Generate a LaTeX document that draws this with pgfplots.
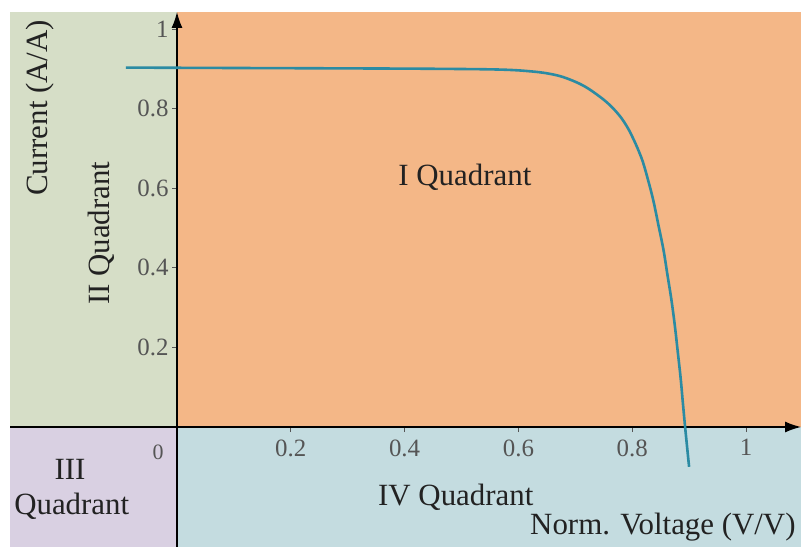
\documentclass[border=0pt]{standalone}
\usepackage{fontspec}
\setmainfont{Liberation Serif}
\usepackage{pgfplots}
\pgfplotsset{compat=1.18}
\usetikzlibrary{arrows.meta}
\definecolor{qone}{HTML}{F4B787}
\definecolor{qtwo}{HTML}{D6DEC7}
\definecolor{qthree}{HTML}{D9D0E2}
\definecolor{qfour}{HTML}{C4DCE0}
\definecolor{curvec}{HTML}{2B8BA3}
\definecolor{tickgray}{HTML}{555555}
\definecolor{txt}{HTML}{222222}
\begin{document}
\begin{tikzpicture}
\begin{axis}[
  at={(0,0)}, anchor=south west,
  scale only axis, width=791bp, height=535bp,
  xmin=-0.2935, xmax=1.0967, ymin=-0.3015, ymax=1.0427,
  set layers,
  axis lines=middle,
  axis line style={line width=1.3bp, black},
  every inner x axis line/.append style={-{Latex[length=16bp,width=11bp]}},
  every inner y axis line/.append style={-{Latex[length=16bp,width=11bp]}},
  clip=false,
  xtick={0.2,0.4,0.6,0.8,1}, ytick={0.2,0.4,0.6,0.8,1},
  xticklabels={0.2,0.4,0.6,0.8,1}, yticklabels={0.2,0.4,0.6,0.8,1},
  tick align=outside, major tick length=5bp,
  tick style={tickgray, line width=0.6bp},
  ticklabel style={font=\fontsize{25}{30}\selectfont, text=tickgray},
  xticklabel style={yshift=-4bp},
  /pgf/number format/assume math mode=true,
]
\begin{pgfonlayer}{axis background}
\fill[white] (axis cs:-0.311,-0.3015) rectangle (axis cs:1.0967,1.073);
\end{pgfonlayer}
\addplot[on layer=axis background, fill=qtwo, draw=none, forget plot] coordinates {(-0.2935,0) (0,0) (0,1.0427) (-0.2935,1.0427)} -- cycle;
\addplot[on layer=axis background, fill=qone, draw=none, forget plot] coordinates {(0,0) (1.0967,0) (1.0967,1.0427) (0,1.0427)} -- cycle;
\addplot[on layer=axis background, fill=qthree, draw=none, forget plot] coordinates {(-0.2935,-0.3015) (0,-0.3015) (0,0) (-0.2935,0)} -- cycle;
\addplot[on layer=axis background, fill=qfour, draw=none, forget plot] coordinates {(0,-0.3015) (1.0967,-0.3015) (1.0967,0) (0,0)} -- cycle;
\addplot[curvec, line width=2.6bp, smooth, tension=0.6] coordinates {
(-0.090,0.903) (0.100,0.902) (0.300,0.901) (0.450,0.900)
(0.568,0.898) (0.626,0.893) (0.660,0.886) (0.685,0.876) (0.715,0.857) (0.743,0.830) (0.762,0.807) (0.779,0.780)
(0.792,0.752) (0.802,0.724) (0.811,0.695) (0.819,0.665) (0.828,0.620) (0.837,0.570) (0.846,0.508) (0.855,0.445)
(0.862,0.382) (0.869,0.319) (0.875,0.254) (0.880,0.190) (0.885,0.125) (0.889,0.062) (0.893,0.000) (0.900,-0.100)};
\begin{scope}[every node/.style={font=\fontsize{31}{37}\selectfont, text=txt}]
\node[anchor=base] at (axis cs:0.506,0.608) {I Quadrant};
\node[anchor=base] at (axis cs:0.490,-0.196) {IV Quadrant};
\node[anchor=base] at (axis cs:-0.188,-0.131) {III};
\node[anchor=base] at (axis cs:-0.185,-0.221) {Quadrant};
\node[anchor=base] at (axis cs:0.854,-0.271) {Norm. Voltage (V/V)};
\node[anchor=base, rotate=90] at (axis cs:-0.228,0.802) {Current (A/A)};
\node[anchor=base, rotate=90] at (axis cs:-0.118,0.487) {II Quadrant};
\end{scope}
\node[font=\fontsize{22}{26}\selectfont, text=tickgray] at (axis cs:-0.033,-0.063) {0};
\end{axis}
\pgfresetboundingbox
\path (-10bp,0) rectangle (791bp,547bp);
\end{tikzpicture}
\end{document}
